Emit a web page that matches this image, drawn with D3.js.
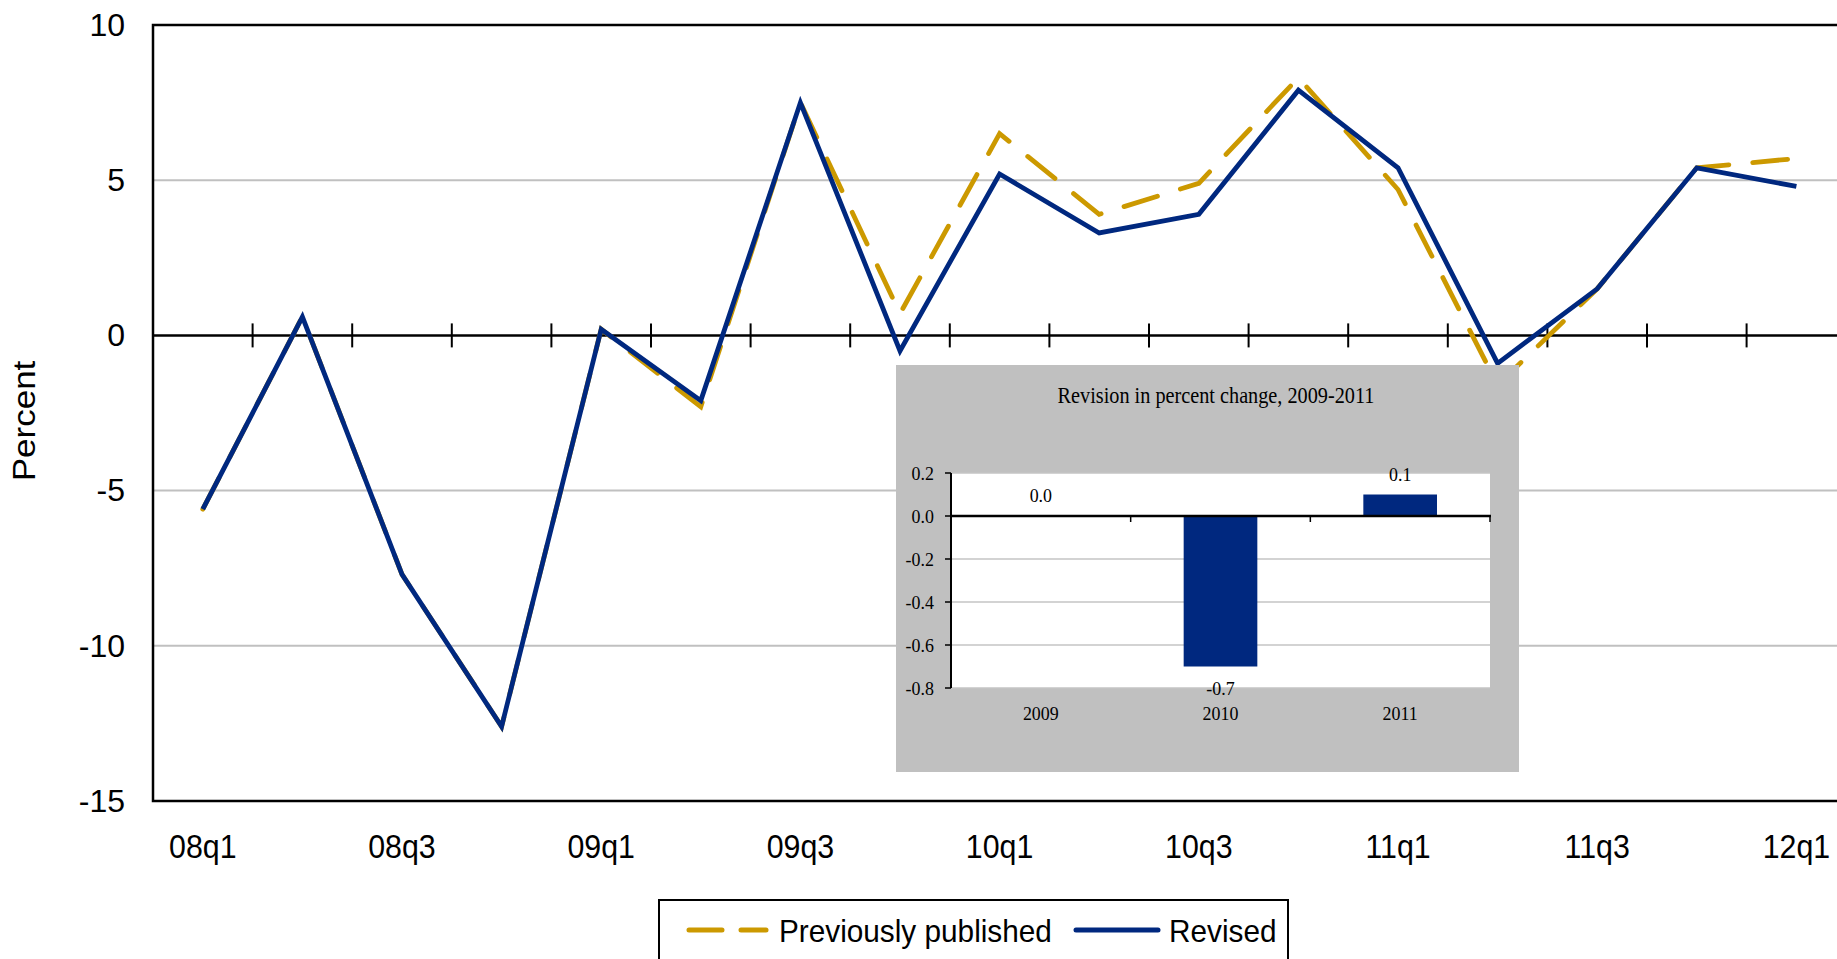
<!DOCTYPE html>
<html lang="en">
<head>
    <meta charset="UTF-8">
    <title>Revised vs previously published</title>
    <script src="https://d3js.org/d3.v7.min.js"></script>
    <style>
        body { margin: 0; background: #fff; }
        svg { display: block; }
        .sans { font-family: "Liberation Sans", Arial, sans-serif; fill: #000; }
        .serif { font-family: "Liberation Serif", "Times New Roman", serif; fill: #000; }
    </style>
</head>
<body>
    <div id="chart"></div>
    <script>

        // quarterly percent change
        const quarters = ["08q1", "08q2", "08q3", "08q4", "09q1", "09q2", "09q3", "09q4",
            "10q1", "10q2", "10q3", "10q4", "11q1", "11q2", "11q3", "11q4", "12q1"];
        const revised = [-5.6, 0.6, -7.7, -12.6, 0.2, -2.1, 7.5, -0.5,
            5.2, 3.3, 3.9, 7.9, 5.4, -0.9, 1.5, 5.4, 4.8];
        const previous = [-5.6, 0.6, -7.7, -12.6, 0.2, -2.3, 7.5, 0.7,
            6.5, 3.9, 4.9, 8.3, 4.7, -1.6, 1.5, 5.4, 5.7];
        const xLabels = ["08q1", "08q3", "09q1", "09q3", "10q1", "10q3", "11q1", "11q3", "12q1"];
        const yTicks = [-15, -10, -5, 0, 5, 10];
        const yGrid = [-10, -5, 5];

        // inset: revision in annual percent change
        const insetYears = ["2009", "2010", "2011"];
        const insetValues = [0.0, -0.7, 0.1];
        const insetTicks = [0.2, 0.0, -0.2, -0.4, -0.6, -0.8];

        const navy = "#00287f";
        const gold = "#cc9900";
        const width = 1837, height = 959;

        const svg = d3.select("#chart").append("svg")
            .attr("width", width)
            .attr("height", height);

        // small helper, text gets squeezed a bit horizontally like in the picture
        function label(g, x, y, str, cls, size, anchor, sx) {
            return g.append("text")
                .attr("class", cls)
                .attr("transform", `translate(${x},${y}) scale(${sx},1)`)
                .attr("text-anchor", anchor)
                .style("font-size", size + "px")
                .text(str);
        }

        const left = 153, band = 99.6;
        const x = d3.scaleBand()
            .domain(quarters)
            .range([left, left + quarters.length * band])
            .padding(0);
        const cx = d => x(d) + x.bandwidth() / 2;

        const y = d3.scaleLinear()
            .domain([-15, 10])
            .range([801, 25]);

        // gridlines
        svg.selectAll(".grid")
            .data(yGrid)
            .join("line")
            .attr("x1", left).attr("x2", width)
            .attr("y1", d => y(d)).attr("y2", d => y(d))
            .attr("stroke", "#c0c0c0")
            .attr("stroke-width", 2);

        // frame (right side is cut off in the picture)
        svg.append("path")
            .attr("d", `M${width},${y(10)}H${left}V${y(-15)}H${width}`)
            .attr("fill", "none")
            .attr("stroke", "#000")
            .attr("stroke-width", 2.5);

        // zero line with cross ticks between quarters
        svg.append("line")
            .attr("x1", left).attr("x2", width)
            .attr("y1", y(0)).attr("y2", y(0))
            .attr("stroke", "#000")
            .attr("stroke-width", 2.5);
        svg.selectAll(".qtick")
            .data(quarters.slice(1))
            .join("line")
            .attr("x1", d => x(d)).attr("x2", d => x(d))
            .attr("y1", y(0) - 12).attr("y2", y(0) + 12)
            .attr("stroke", "#000")
            .attr("stroke-width", 2);

        // y axis labels (plain hyphen for negatives)
        const yAxis = svg.append("g")
            .attr("transform", `translate(${left},0)`)
            .call(d3.axisLeft(y).tickValues(yTicks).tickSize(0).tickPadding(28)
                .tickFormat(d => String(d)));
        yAxis.select(".domain").remove();
        yAxis.selectAll("text")
            .attr("class", "sans")
            .style("font-family", '"Liberation Sans", Arial, sans-serif')
            .style("font-size", "32px")
            .attr("fill", "#000");

        // x labels, every other quarter
        xLabels.forEach(q => {
            label(svg, cx(q), 858, q, "sans", 33, "middle", 0.92);
        });

        // axis title
        svg.append("text")
            .attr("class", "sans")
            .attr("transform", "translate(35,421) rotate(-90) scale(1.13,1)")
            .attr("text-anchor", "middle")
            .style("font-size", "31px")
            .text("Percent");

        // lines
        const line = vals => d3.line()
            .x((d, i) => cx(quarters[i]))
            .y(d => y(d))(vals);

        svg.append("path")
            .attr("d", line(previous))
            .attr("fill", "none")
            .attr("stroke", gold)
            .attr("stroke-width", 4.8)
            .attr("stroke-dasharray", "35,24")
            .attr("stroke-linecap", "round");

        svg.append("path")
            .attr("d", line(revised))
            .attr("fill", "none")
            .attr("stroke", navy)
            .attr("stroke-width", 4.8)
            .attr("stroke-linejoin", "miter");

        // ---- inset bar chart ----
        const inset = svg.append("g");
        inset.append("rect")
            .attr("x", 896).attr("y", 365)
            .attr("width", 623).attr("height", 407)
            .attr("fill", "#c0c0c0");

        label(inset, 1216, 403, "Revision in percent change, 2009-2011", "serif", 22.5, "middle", 0.9);

        const ix = d3.scaleBand()
            .domain(insetYears)
            .range([951, 1490])
            .padding(0);
        const iy = d3.scaleLinear()
            .domain([-0.8, 0.2])
            .range([688, 473]);

        inset.append("rect")
            .attr("x", 951).attr("y", iy(0.2))
            .attr("width", 539).attr("height", iy(-0.8) - iy(0.2))
            .attr("fill", "#fff");

        inset.selectAll(".igrid")
            .data(insetTicks.filter(d => d !== 0))
            .join("line")
            .attr("x1", 951).attr("x2", 1490)
            .attr("y1", d => iy(d)).attr("y2", d => iy(d))
            .attr("stroke", "#c4c4c4")
            .attr("stroke-width", 1.5);

        inset.selectAll(".bar")
            .data(insetValues)
            .join("rect")
            .attr("x", (d, i) => ix(insetYears[i]) + ix.bandwidth() * 0.295)
            .attr("width", ix.bandwidth() * 0.41)
            .attr("y", d => iy(Math.max(0, d)))
            .attr("height", d => Math.abs(iy(d) - iy(0)))
            .attr("fill", navy);

        // inset axes
        inset.append("line")
            .attr("x1", 951).attr("x2", 951)
            .attr("y1", iy(0.2)).attr("y2", iy(-0.8))
            .attr("stroke", "#000").attr("stroke-width", 2);
        inset.selectAll(".iytick")
            .data(insetTicks)
            .join("line")
            .attr("x1", 945).attr("x2", 951)
            .attr("y1", d => iy(d)).attr("y2", d => iy(d))
            .attr("stroke", "#000").attr("stroke-width", 1.5);
        inset.append("line")
            .attr("x1", 951).attr("x2", 1491)
            .attr("y1", iy(0)).attr("y2", iy(0))
            .attr("stroke", "#000").attr("stroke-width", 2.5);
        inset.selectAll(".ixtick")
            .data(insetYears.slice(1).concat(["end"]))
            .join("line")
            .attr("x1", d => d === "end" ? 1490 : ix(d))
            .attr("x2", d => d === "end" ? 1490 : ix(d))
            .attr("y1", iy(0)).attr("y2", iy(0) + 6)
            .attr("stroke", "#000").attr("stroke-width", 1.5);

        insetTicks.forEach(t => {
            label(inset, 934, iy(t) + 6.5, t.toFixed(1), "serif", 19.5, "end", 0.92);
        });
        insetYears.forEach(yr => {
            label(inset, ix(yr) + ix.bandwidth() / 2, 720, yr, "serif", 19.5, "middle", 0.92);
        });
        insetValues.forEach((v, i) => {
            const ly = v < 0 ? iy(v) + 28 : iy(v) - 14;
            label(inset, ix(insetYears[i]) + ix.bandwidth() / 2, ly, v.toFixed(1), "serif", 19.5, "middle", 0.92);
        });

        // ---- legend ----
        const legend = svg.append("g");
        legend.append("rect")
            .attr("x", 659).attr("y", 900)
            .attr("width", 629).attr("height", 80)
            .attr("fill", "#fff")
            .attr("stroke", "#000")
            .attr("stroke-width", 2);
        legend.append("line")
            .attr("x1", 689).attr("x2", 766)
            .attr("y1", 930).attr("y2", 930)
            .attr("stroke", gold).attr("stroke-width", 5)
            .attr("stroke-dasharray", "33,19")
            .attr("stroke-linecap", "round");
        label(legend, 779, 942, "Previously published", "sans", 32, "start", 0.93);
        legend.append("line")
            .attr("x1", 1076).attr("x2", 1158)
            .attr("y1", 930).attr("y2", 930)
            .attr("stroke", navy).attr("stroke-width", 5)
            .attr("stroke-linecap", "round");
        label(legend, 1169, 942, "Revised", "sans", 32, "start", 0.93);

    </script>
</body>
</html>
